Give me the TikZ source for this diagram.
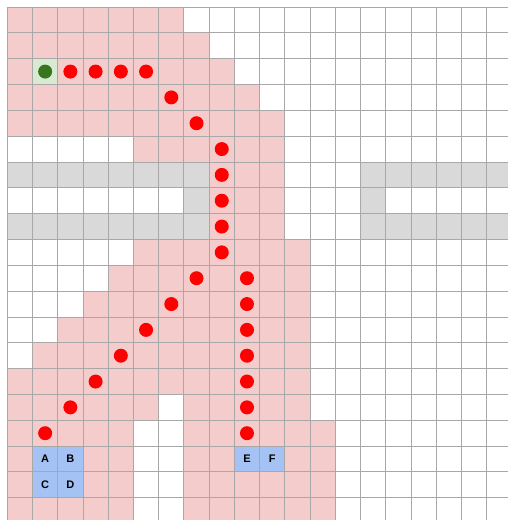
\documentclass[tikz,border=0pt]{standalone}
\usepackage{fontspec}
\setmainfont{Liberation Sans}
\definecolor{pinkc}{HTML}{F4CCCC}
\definecolor{grayc}{HTML}{D9D9D9}
\definecolor{bluec}{HTML}{A4C2F4}
\definecolor{greenc}{HTML}{D9EAD3}
\definecolor{dotg}{HTML}{38761D}
\definecolor{dotr}{HTML}{FF0000}
\definecolor{linec}{HTML}{A8A8A8}
\newcommand\cellrow[4]{\fill[#1] (#3,#2) rectangle (#4+1,#2+1);}
\begin{document}
\begin{tikzpicture}[
  reddot/.style={circle,fill=dotr,minimum size=14pt,inner sep=0pt},
  greendot/.style={circle,fill=dotg,minimum size=14pt,inner sep=0pt},
  lbl/.style={font=\bfseries\fontsize{11}{13}\selectfont,inner sep=0pt}
]
\useasboundingbox (0,0) rectangle (508pt,-520pt);
\clip (0,0) rectangle (508pt,-520pt);
\begin{scope}[xshift=7.3pt,yshift=-7pt,x=25.23pt,y=-25.83pt]
% pink regions
\cellrow{pinkc}{0}{0}{6}
\cellrow{pinkc}{1}{0}{7}
\cellrow{pinkc}{2}{0}{8}
\cellrow{pinkc}{3}{0}{9}
\cellrow{pinkc}{4}{0}{10}
\cellrow{pinkc}{5}{5}{10}
\cellrow{pinkc}{6}{8}{10}
\cellrow{pinkc}{7}{8}{10}
\cellrow{pinkc}{8}{8}{10}
\cellrow{pinkc}{9}{5}{11}
\cellrow{pinkc}{10}{4}{11}
\cellrow{pinkc}{11}{3}{11}
\cellrow{pinkc}{12}{2}{11}
\cellrow{pinkc}{13}{1}{11}
\cellrow{pinkc}{14}{0}{11}
\cellrow{pinkc}{15}{0}{5}
\cellrow{pinkc}{15}{7}{11}
\foreach \r in {16,17,18,19}{
  \cellrow{pinkc}{\r}{0}{4}
  \cellrow{pinkc}{\r}{7}{12}
}
% gray walls
\cellrow{grayc}{6}{0}{7}
\cellrow{grayc}{6}{14}{19}
\cellrow{grayc}{7}{7}{7}
\cellrow{grayc}{7}{14}{14}
\cellrow{grayc}{8}{0}{7}
\cellrow{grayc}{8}{14}{19}
% start cell
\cellrow{greenc}{2}{1}{1}
% blue cells
\cellrow{bluec}{17}{1}{2}
\cellrow{bluec}{18}{1}{2}
\cellrow{bluec}{17}{9}{10}
% grid
\foreach \i in {0,...,20}{
  \draw[linec,line width=0.9pt] (\i,0) -- (\i,20);
  \draw[linec,line width=0.9pt] (0,\i) -- (20,\i);
}
% start
\node[greendot] (s) at (1.5,2.5) {};
% path dots
\foreach \c/\r [count=\k] in {2/2,3/2,4/2,5/2,6/3,7/4,8/5,8/6,8/7,8/8,8/9,
  7/10,6/11,5/12,4/13,3/14,2/15,1/16,
  9/10,9/11,9/12,9/13,9/14,9/15,9/16}{
  \node[reddot] (d\k) at (\c+0.5,\r+0.5) {};
}
% labels
\node[lbl] (A) at (1.5,17.5) {A};
\node[lbl] (B) at (2.5,17.5) {B};
\node[lbl] (C) at (1.5,18.5) {C};
\node[lbl] (D) at (2.5,18.5) {D};
\node[lbl] (E) at (9.5,17.5) {E};
\node[lbl] (F) at (10.5,17.5) {F};
\end{scope}
\end{tikzpicture}
\end{document}
